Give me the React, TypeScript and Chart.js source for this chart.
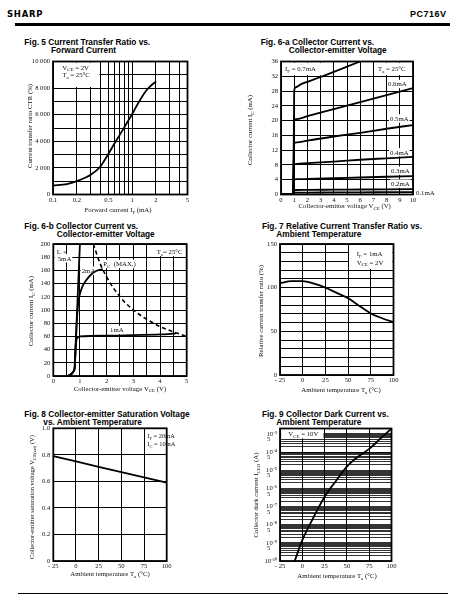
import React, { useEffect, useRef } from "react";
import { Chart, registerables } from "chart.js";
Chart.register(...registerables);

const SERIF = "'Liberation Serif', 'Times New Roman', serif";
const SANS = "'Liberation Sans', Arial, sans-serif";

// ---------------- DATA ----------------
// Fig. 5  CTR vs IF
const fig5IF = [0.1, 0.15, 0.2, 0.3, 0.4, 0.45, 0.5, 0.6, 0.7, 0.8, 0.9, 1.0, 1.2, 1.5, 1.7, 2.0];
const fig5CTR = [680, 780, 1000, 1480, 2120, 2600, 3050, 3850, 4500, 5080, 5580, 6050, 6900, 7800, 8150, 8500];
const fig5XGrid = [0.1, 0.2, 0.3, 0.4, 0.5, 0.6, 0.7, 0.8, 0.9, 1, 2, 3, 4, 5];
const fig5XLabels = [0.1, 0.2, 0.5, 1, 2, 5];
const fig5YGrid = [0, 1000, 2000, 3000, 4000, 5000, 6000, 7000, 8000, 9000, 10000];
const fig5YLabels = [0, 2000, 4000, 6000, 8000, 10000];

// Fig. 6-a  IC vs VCE (low IF)
const fig6aV07 = [0, 0.9, 0.96, 1.0, 1.1, 1.5, 2, 3, 4, 5, 6];
const fig6aI07 = [0, 0.2, 12, 28, 29, 29.8, 30.5, 31.8, 33.2, 34.6, 36];
const fig6aV = [0, 0.9, 0.96, 1.0, 1.2, 2, 4, 6, 8, 10];
const fig6aI06 = [0, 0.2, 9, 20.2, 20.4, 21.2, 23.1, 25, 26.9, 28.8];
const fig6aI05 = [0, 0.2, 6, 13.9, 14.1, 14.6, 15.7, 16.7, 17.8, 18.8];
const fig6aI04 = [0, 0.2, 4, 8.2, 8.3, 8.5, 8.9, 9.4, 9.8, 10.2];
const fig6aI03 = [0, 0.2, 2, 4.1, 4.15, 4.2, 4.4, 4.6, 4.8, 5.0];
const fig6aI02 = [0, 0.2, 0.8, 1.2, 1.22, 1.25, 1.3, 1.35, 1.4, 1.45];
const fig6aI01 = [0, 0.1, 0.3, 0.5, 0.5, 0.52, 0.55, 0.6, 0.62, 0.65];
const fig6aXGrid = [0, 1, 2, 3, 4, 5, 6, 7, 8, 9, 10];
const fig6aYGrid = [0, 4, 8, 12, 16, 20, 24, 28, 32, 36];

// Fig. 6-b  IC vs VCE (high IF)
const fig6bV5 = [0.55, 0.68, 0.76, 0.8, 1.0];
const fig6bI5 = [0, 3, 7, 12, 202];
const fig6bV2 = [0.55, 0.68, 0.76, 0.8, 0.85, 0.9, 0.95, 1.0, 1.05, 1.12, 1.25, 1.4, 1.6, 1.85];
const fig6bI2 = [0, 3, 7, 12, 55, 95, 115, 125, 131, 138, 146, 153, 159, 162];
const fig6bV1 = [0.55, 0.68, 0.76, 0.8, 0.84, 0.87, 0.92, 1.0, 2, 3, 4, 4.6];
const fig6bI1 = [0, 3, 7, 12, 45, 55, 58.5, 60, 61, 62, 63, 64.5];
const fig6bVpc = [1.5, 1.75, 2, 2.5, 3, 3.5, 4, 4.5, 5];
const fig6bIpc = [200, 171, 150, 120, 100, 86, 75, 67, 60];
const fig6bXGrid = [0, 0.5, 1, 1.5, 2, 2.5, 3, 3.5, 4, 4.5, 5];
const fig6bXLabels = [0, 1, 2, 3, 4, 5];
const fig6bYGrid = [0, 20, 40, 60, 80, 100, 120, 140, 160, 180, 200];

// Fig. 7  relative CTR vs Ta
const fig7T = [-25, -12.5, 0, 12.5, 25, 37.5, 50, 62.5, 75, 87.5, 100];
const fig7R = [105, 107.5, 107.5, 104.5, 100, 94, 88, 79, 70.5, 65, 60.5];
const tempGrid = [-25, 0, 25, 50, 75, 100];
const fig7YGrid = [0, 10, 20, 30, 40, 50, 60, 70, 80, 90, 100, 110, 120, 130, 140, 150];
const fig7YLabels = [0, 50, 100, 150];

// Fig. 8  VCE(sat) vs Ta
const fig8T = [-25, 0, 25, 50, 75, 100];
const fig8V = [0.79, 0.75, 0.71, 0.67, 0.63, 0.59];
const fig8YGrid = [0, 0.2, 0.4, 0.6, 0.8, 1.0];

// Fig. 9  ICEO vs Ta
const fig9T = [-8.5, 0, 12.5, 25, 37.5, 50, 62.5, 75, 87.5, 100];
const fig9I = [1e-10, 1.4e-9, 2.5e-8, 3.5e-7, 2.5e-6, 1.6e-5, 5.6e-5, 1.5e-4, 5.5e-4, 2e-3];
const fig9Decades = [-10, -9, -8, -7, -6, -5, -4];
const fig9Mult = [1, 2, 3, 4, 5, 6, 7, 8, 9];
const fig9Top = [1e-3, 2e-3];
const fig9PowLabels = [-10, -9, -8, -7, -6, -5, -4, -3];
const fig9FiveLabels = [-10, -9, -8, -7, -6, -5, -4];

// ---------------- HELPERS ----------------
type Part = [string, number?];
interface Lab { x: number; y: number; parts: Part[]; bg?: boolean; align?: "left" | "center"; size?: number }
interface Box { x0: number; x1: number; y0: number; y1: number }
interface Axis { type: "linear" | "logarithmic"; min: number; max: number; grid: number[]; labels: number[]; fmt: (v: number) => string; gridWidth?: number }
interface FigSpec {
  rect: { left: number; top: number; right: number; bottom: number };
  extraR: number;
  x: Axis; y: Axis;
  datasets: any[];
  boxes: Box[];
  labels: Lab[];
  xTitle: Lab; yTitle: Lab;
}

const has = (arr: number[], v: number) => arr.some((a) => a === v || Math.abs(a - v) <= Math.abs(a) * 1e-6);
const fmtK = (v: number) => (v === 0 ? "0" : `${v / 1000} 000`);
const fmtT = (v: number) => (v < 0 ? `- ${-v}` : String(v));
const fmtD1 = (v: number) => (v === 0 ? "0" : v.toFixed(1));
const SUP: Record<string, string> = { "-": "\u207B", "0": "\u2070", "1": "\u00B9", "2": "\u00B2", "3": "\u00B3", "4": "\u2074", "5": "\u2075", "6": "\u2076", "7": "\u2077", "8": "\u2078", "9": "\u2079" };
const sup = (n: number) => String(n).split("").map((c) => SUP[c] || c).join("");
const fig9PowVals = fig9PowLabels.map((d) => Math.pow(10, d));
const fig9FiveVals = fig9FiveLabels.map((d) => 5 * Math.pow(10, d));
const fig9Grid = fig9Decades.flatMap((d) => fig9Mult.map((m) => m * Math.pow(10, d))).concat(fig9Top);
const fmtLog = (v: number) => {
  if (has(fig9PowVals, v)) return "10" + sup(Math.round(Math.log10(v)));
  if (has(fig9FiveVals, v)) return "5\u2002\u2002";
  return "";
};

const line = (xs: number[], ys: number[], extra: any = {}) => ({
  data: xs.map((x, i) => ({ x, y: ys[i] })),
  borderColor: "#000",
  borderWidth: 1.8,
  pointRadius: 0,
  fill: false,
  cubicInterpolationMode: "monotone",
  ...extra,
});

function drawRich(ctx: CanvasRenderingContext2D, parts: Part[], x: number, y: number, size: number, align: "left" | "center", bg: boolean) {
  const fonts = parts.map(([, m]) => `${m ? size * 0.72 : size}px ${SERIF}`);
  const widths = parts.map(([t], i) => {
    ctx.font = fonts[i];
    return ctx.measureText(t).width;
  });
  const w = widths.reduce((a, b) => a + b, 0);
  let cx = align === "center" ? x - w / 2 : x;
  if (bg) {
    ctx.fillStyle = "#fff";
    ctx.fillRect(cx - 1, y - size * 0.62, w + 2, size * 1.24);
  }
  ctx.fillStyle = "#111";
  ctx.textBaseline = "alphabetic";
  ctx.textAlign = "left";
  const base = y + size * 0.33;
  parts.forEach(([t, m], i) => {
    ctx.font = fonts[i];
    const dy = m === 1 ? size * 0.28 : m === 2 ? -size * 0.38 : 0;
    ctx.fillText(t, cx, base + dy);
    cx += widths[i];
  });
}

const TICK_FONT = { family: SERIF, size: 6.6 };

function Fig({ spec }: { spec: FigSpec }) {
  const ref = useRef<HTMLCanvasElement>(null);
  const cl = Math.floor(spec.rect.left - 50);
  const ct = Math.floor(spec.rect.top - 12);
  const cw = Math.ceil(spec.rect.right + spec.extraR) - cl;
  const ch = Math.ceil(spec.rect.bottom + 24) - ct;
  useEffect(() => {
    const padL = spec.rect.left - cl;
    const padT = spec.rect.top - ct;
    const padR = cl + cw - spec.rect.right;
    const padB = ct + ch - spec.rect.bottom;
    const annot = {
      id: "annot",
      beforeDatasetsDraw(chart: any) {
        const { ctx, chartArea: ca, scales } = chart;
        const xs = scales.x, ys = scales.y;
        ctx.save();
        ctx.fillStyle = "#fff";
        for (const b of spec.boxes) {
          const p0 = xs.getPixelForValue(b.x0), p1 = xs.getPixelForValue(b.x1);
          const q0 = ys.getPixelForValue(b.y0), q1 = ys.getPixelForValue(b.y1);
          const l = Math.min(p0, p1) + 1.1, r = Math.max(p0, p1) - 1.1;
          const t = Math.min(q0, q1) + 1.1, bt = Math.max(q0, q1) - 1.1;
          ctx.fillRect(l, t, r - l, bt - t);
        }
        ctx.strokeStyle = "#000";
        ctx.lineWidth = 1.8;
        ctx.strokeRect(ca.left, ca.top, ca.right - ca.left, ca.bottom - ca.top);
        for (const lb of spec.labels) {
          drawRich(ctx, lb.parts, lb.x - cl, lb.y - ct, lb.size || 6.8, lb.align || "left", !!lb.bg);
        }
        ctx.restore();
      },
      afterDraw(chart: any) {
        const ctx = chart.ctx as CanvasRenderingContext2D;
        ctx.save();
        const xt = spec.xTitle;
        drawRich(ctx, xt.parts, xt.x - cl, xt.y - ct, xt.size || 6.8, "center", false);
        const yt = spec.yTitle;
        ctx.translate(yt.x - cl, yt.y - ct);
        ctx.rotate(-Math.PI / 2);
        drawRich(ctx, yt.parts, 0, 0, yt.size || 6.8, "center", false);
        ctx.restore();
      },
    };
    const axis = (a: Axis, isX: boolean) => ({
      type: a.type,
      min: a.min,
      max: a.max,
      afterBuildTicks: (s: any) => {
        s.ticks = a.grid.map((v) => ({ value: v }));
      },
      afterFit: (s: any) => {
        if (isX) s.height = padB;
        else s.width = padL;
      },
      ticks: {
        autoSkip: false,
        maxRotation: 0,
        minRotation: 0,
        padding: isX ? 1.5 : 3,
        color: "#111",
        font: TICK_FONT,
        callback: (v: number) => (has(a.labels, v) ? a.fmt(v) : ""),
      },
      grid: { color: "#000", lineWidth: a.gridWidth || 1, drawTicks: false },
      border: { display: false },
    });
    const chart = new Chart(ref.current as HTMLCanvasElement, {
      type: "line",
      data: { datasets: spec.datasets },
      options: {
        animation: false,
        responsive: false,
        maintainAspectRatio: false,
        devicePixelRatio: 1,
        layout: { padding: { left: 0, top: padT, right: padR, bottom: 0 } },
        plugins: { legend: { display: false }, tooltip: { enabled: false }, title: { display: false } },
        scales: { x: axis(spec.x, true) as any, y: axis(spec.y, false) as any },
      },
      plugins: [annot as any],
    });
    return () => chart.destroy();
  }, []);
  return <canvas ref={ref} width={cw} height={ch} style={{ position: "absolute", left: cl, top: ct, width: cw, height: ch }} />;
}

// ---------------- SPECS ----------------
const VCE: Part[] = [["V"], ["CE", 1]];
const TA_X: Part[] = [["Ambient temperature T"], ["a", 1], [" (\u00B0C)"]];

const fig5Spec: FigSpec = {
  rect: { left: 53, top: 61.5, right: 187.5, bottom: 194.5 }, extraR: 14,
  x: { type: "logarithmic", min: 0.1, max: 5, grid: fig5XGrid, labels: fig5XLabels, fmt: (v) => String(v) },
  y: { type: "linear", min: 0, max: 10000, grid: fig5YGrid, labels: fig5YLabels, fmt: fmtK },
  datasets: [line(fig5IF, fig5CTR)],
  boxes: [{ x0: 0.1, x1: 0.4, y0: 8000, y1: 10000 }],
  labels: [
    { x: 62.3, y: 67.3, parts: [...VCE, [" = 2V"]] },
    { x: 62.3, y: 75, parts: [["T"], ["a", 1], [" = 25\u00B0C"]] },
  ],
  xTitle: { x: 118, y: 209.5, parts: [["Forward current I"], ["F", 1], [" (mA)"]] },
  yTitle: { x: 29.5, y: 126, parts: [["Current transfer ratio CTR (%)"]] },
};

const fig6aSpec: FigSpec = {
  rect: { left: 281, top: 61.5, right: 413, bottom: 194.5 }, extraR: 26,
  x: { type: "linear", min: 0, max: 10, grid: fig6aXGrid, labels: fig6aXGrid, fmt: (v) => String(v) },
  y: { type: "linear", min: 0, max: 36, grid: fig6aYGrid, labels: fig6aYGrid, fmt: (v) => String(v) },
  datasets: [
    line(fig6aV07, fig6aI07), line(fig6aV, fig6aI06), line(fig6aV, fig6aI05), line(fig6aV, fig6aI04),
    line(fig6aV, fig6aI03), line(fig6aV, fig6aI02), line(fig6aV, fig6aI01),
  ],
  boxes: [
    { x0: 0, x1: 4, y0: 32, y1: 36 },
    { x0: 7, x1: 10, y0: 32, y1: 36 },
  ],
  labels: [
    { x: 285, y: 68.5, parts: [["I"], ["F", 1], [" = 0.7mA"]] },
    { x: 378, y: 68.5, parts: [["T"], ["a", 1], [" = 25\u00B0C"]] },
    { x: 388, y: 84, parts: [["0.6mA"]], bg: true },
    { x: 390, y: 118.5, parts: [["0.5mA"]], bg: true },
    { x: 390, y: 152.3, parts: [["0.4mA"]], bg: true },
    { x: 391, y: 170.7, parts: [["0.3mA"]], bg: true },
    { x: 391, y: 183.6, parts: [["0.2mA"]], bg: true },
    { x: 416, y: 192.3, parts: [["0.1mA"]] },
  ],
  xTitle: { x: 344.7, y: 205.7, parts: [["Collector-emitter voltage "], ...VCE, [" (V)"]] },
  yTitle: { x: 250, y: 130, parts: [["Collector current I"], ["C", 1], [" (mA)"]] },
};

const fig6bSpec: FigSpec = {
  rect: { left: 53.3, top: 244, right: 186.7, bottom: 376 }, extraR: 14,
  x: { type: "linear", min: 0, max: 5, grid: fig6bXGrid, labels: fig6bXLabels, fmt: (v) => String(v) },
  y: { type: "linear", min: 0, max: 200, grid: fig6bYGrid, labels: fig6bYGrid, fmt: (v) => String(v) },
  datasets: [
    line(fig6bV5, fig6bI5, { cubicInterpolationMode: "default", tension: 0 }),
    line(fig6bV2, fig6bI2),
    line(fig6bV1, fig6bI1),
    line(fig6bVpc, fig6bIpc, { borderDash: [4, 3], borderWidth: 1.6 }),
  ],
  boxes: [
    { x0: 0, x1: 0.5, y0: 160, y1: 200 },
    { x0: 3.5, x1: 5, y0: 180, y1: 200 },
  ],
  labels: [
    { x: 56.7, y: 251.7, parts: [["I"], ["F", 1], [" ="]] },
    { x: 57.7, y: 258.3, parts: [["5mA"]], bg: true },
    { x: 81.7, y: 270.7, parts: [["2mA"]], bg: true },
    { x: 103.3, y: 264, parts: [["P"], ["C", 1], ["  (MAX.)"]], bg: true },
    { x: 156.7, y: 251.7, parts: [["T"], ["a", 1], ["= 25\u00B0C"]] },
    { x: 110, y: 330, parts: [["1mA"]], bg: true },
  ],
  xTitle: { x: 120, y: 388.3, parts: [["Collector-emitter voltage "], ...VCE, [" (V)"]] },
  yTitle: { x: 31, y: 311, parts: [["Collector current I"], ["C", 1], [" (mA)"]] },
};

const fig7Spec: FigSpec = {
  rect: { left: 280, top: 244, right: 393.5, bottom: 375 }, extraR: 14,
  x: { type: "linear", min: -25, max: 100, grid: tempGrid, labels: tempGrid, fmt: fmtT },
  y: { type: "linear", min: 0, max: 150, grid: fig7YGrid, labels: fig7YLabels, fmt: (v) => String(v) },
  datasets: [line(fig7T, fig7R)],
  boxes: [{ x0: 50, x1: 100, y0: 120, y1: 150 }],
  labels: [
    { x: 356.7, y: 254, parts: [["I"], ["F", 1], [" = 1mA"]] },
    { x: 356.7, y: 262.3, parts: [...VCE, [" = 2V"]] },
  ],
  xTitle: { x: 341, y: 390, parts: TA_X },
  yTitle: { x: 260.5, y: 311, parts: [["Relative current transfer ratio (%)"]] },
};

const fig8Spec: FigSpec = {
  rect: { left: 53.3, top: 428.3, right: 166.7, bottom: 561 }, extraR: 14,
  x: { type: "linear", min: -25, max: 100, grid: tempGrid, labels: tempGrid, fmt: fmtT },
  y: { type: "linear", min: 0, max: 1.0, grid: fig8YGrid, labels: fig8YGrid, fmt: fmtD1 },
  datasets: [line(fig8T, fig8V, { cubicInterpolationMode: "default", tension: 0 })],
  boxes: [{ x0: 75, x1: 100, y0: 0.8, y1: 1.0 }],
  labels: [
    { x: 147.3, y: 435.7, parts: [["I"], ["F", 1], [" = 20mA"]], size: 6.4 },
    { x: 147.3, y: 444, parts: [["I"], ["C", 1], [" = 10mA"]], size: 6.4 },
  ],
  xTitle: { x: 110, y: 574, parts: TA_X },
  yTitle: { x: 31.7, y: 497, parts: [["Collector-emitter saturation voltage V"], ["CE(sat)", 1], [" (V)"]], size: 6.5 },
};

const fig9Spec: FigSpec = {
  rect: { left: 280, top: 428.5, right: 391.5, bottom: 561 }, extraR: 14,
  x: { type: "linear", min: -25, max: 100, grid: tempGrid, labels: tempGrid, fmt: fmtT },
  y: { type: "logarithmic", min: 1e-10, max: 2e-3, grid: fig9Grid, labels: fig9PowVals.concat(fig9FiveVals), fmt: fmtLog, gridWidth: 0.8 },
  datasets: [line(fig9T, fig9I)],
  boxes: [{ x0: -25, x1: 25, y0: 5e-4, y1: 2e-3 }],
  labels: [{ x: 288.3, y: 434, parts: [...VCE, [" = 10V"]] }],
  xTitle: { x: 337, y: 575.5, parts: TA_X },
  yTitle: { x: 256, y: 495, parts: [["Collector dark current I"], ["CEO", 1], [" (A)"]] },
};

const figs = [fig5Spec, fig6aSpec, fig6bSpec, fig7Spec, fig8Spec, fig9Spec];

const TITLE_SIZE = 8.3;
const titles: { x: number; y: number; t: string }[] = [
  { x: 24.3, y: 42.7, t: "Fig. 5 Current Transfer Ratio vs." },
  { x: 51, y: 50.7, t: "Forward Current" },
  { x: 260.7, y: 42.7, t: "Fig. 6-a Collector Current vs." },
  { x: 288.7, y: 50.7, t: "Collector-emitter Voltage" },
  { x: 24.3, y: 226.7, t: "Fig. 6-b Collector Current vs." },
  { x: 56.7, y: 235, t: "Collector-emitter Voltage" },
  { x: 262, y: 226.7, t: "Fig. 7 Relative Current Transfer Ratio vs." },
  { x: 276.3, y: 235, t: "Ambient Temperature" },
  { x: 24.3, y: 414.5, t: "Fig. 8 Collector-emitter Saturation Voltage" },
  { x: 43.3, y: 422.5, t: "vs. Ambient Temperature" },
  { x: 262, y: 414.5, t: "Fig. 9 Collector Dark Current vs." },
  { x: 276.3, y: 422.5, t: "Ambient Temperature" },
];

export default function App() {
  return (
    <div style={{ position: "absolute", left: 0, top: 0, width: 467, height: 611, overflow: "hidden", background: "#fff" }}>
      <div style={{ position: "absolute", left: 7, top: 9.5, fontFamily: "'DejaVu Sans', sans-serif", fontWeight: 900, fontSize: 8.5, lineHeight: "8px", letterSpacing: 0.7, color: "#000" }}>SHARP</div>
      <div style={{ position: "absolute", right: 467 - 446.5, top: 9.5, fontFamily: SANS, fontWeight: 700, fontSize: 9, lineHeight: "9px", letterSpacing: 0.5, color: "#000" }}>PC716V</div>
      <div style={{ position: "absolute", left: 15, top: 23, width: 435, height: 3, background: "#000" }} />
      <div style={{ position: "absolute", left: 18, top: 592.5, width: 430, height: 1, background: "#000" }} />
      {titles.map((t, i) => (
        <div key={i} style={{ position: "absolute", left: t.x, top: t.y - 0.59 * TITLE_SIZE, fontFamily: SANS, fontWeight: 700, fontSize: TITLE_SIZE, lineHeight: `${TITLE_SIZE * 1.2}px`, whiteSpace: "nowrap", color: "#000" }}>
          {t.t}
        </div>
      ))}
      {figs.map((s, i) => (
        <Fig key={i} spec={s} />
      ))}
    </div>
  );
}
